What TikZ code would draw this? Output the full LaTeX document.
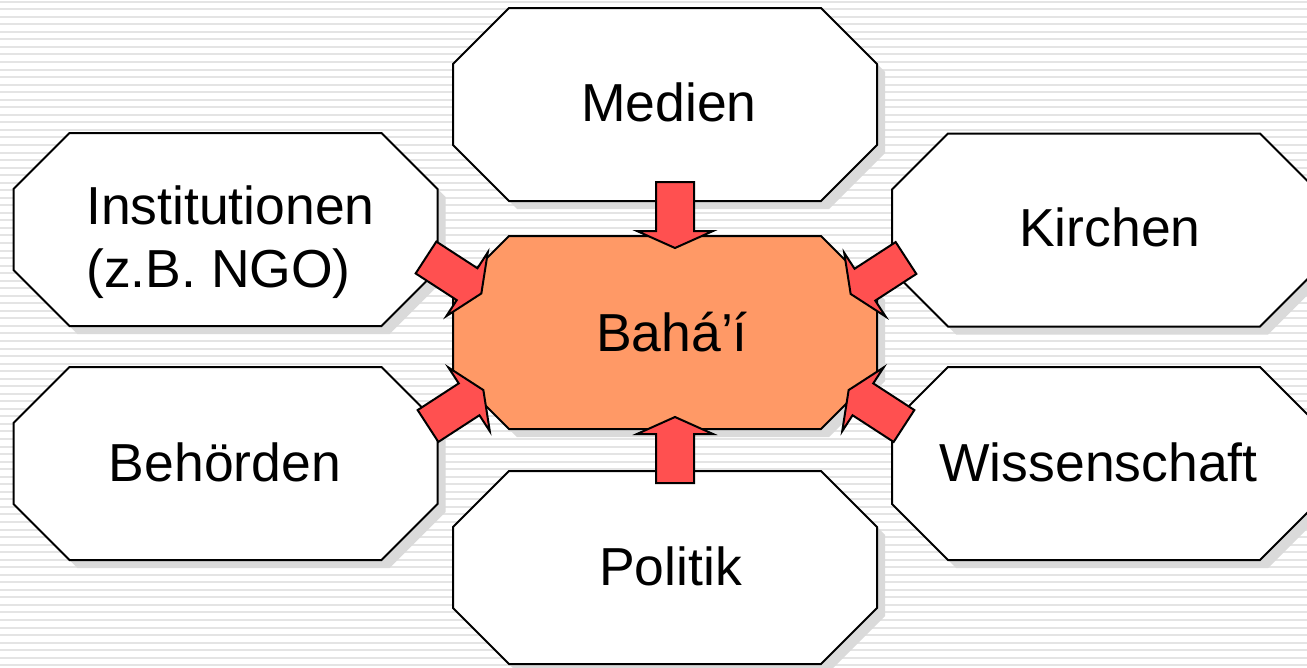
\documentclass[tikz,border=0pt]{standalone}
\usepackage{fontspec}
\setmainfont{Liberation Sans}
\definecolor{stripec}{HTML}{E4E4E4}
\definecolor{shadowc}{HTML}{DADADA}
\definecolor{orangec}{HTML}{FF9966}
\definecolor{arrowc}{HTML}{FF5050}
\tikzset{
  boxline/.style={draw=black, line width=2pt},
  arrowshape/.style={draw=black, line width=2pt, fill=arrowc},
  lbl/.style={font=\fontsize{53.5}{63}\selectfont, inner sep=0pt, anchor=base},
  blockarrow/.pic={\path[arrowshape] (0,-19) -- (49,-19) -- (49,-38) -- (66,0) -- (49,38) -- (49,19) -- (0,19) -- cycle;}
}
\newcommand{\octshape}[2]{%
  \begin{scope}[shift={(#1)}]
    \fill[shadowc, shift={(8,8)}] (-156,-96.5) -- (156,-96.5) -- (212,-40.5) -- (212,40.5) -- (156,96.5) -- (-156,96.5) -- (-212,40.5) -- (-212,-40.5) -- cycle;
    \path[boxline, fill=#2] (-156,-96.5) -- (156,-96.5) -- (212,-40.5) -- (212,40.5) -- (156,96.5) -- (-156,96.5) -- (-212,40.5) -- (-212,-40.5) -- cycle;
  \end{scope}}
\begin{document}
\begin{tikzpicture}[x=1pt, y=-1pt]
  \clip (0,0) rectangle (1307,667);
  \fill[white] (0,0) rectangle (1307,667);
  \foreach \i in {0,...,89} {
    \draw[stripec, line width=2pt] (0,{1.7+7.54*\i}) -- (1307,{1.7+7.54*\i});
  }
  % outer boxes
  \octshape{665,104.5}{white}
  \octshape{225.5,229.5}{white}
  \octshape{1104,230}{white}
  \octshape{225.5,463.5}{white}
  \octshape{1104,463.5}{white}
  \octshape{665,567.5}{white}
  % centre box
  \octshape{665,332.5}{orangec}
  % labels
  \node[lbl] (medien) at (669,121) {Medien};
  \node[lbl, align=left, anchor=north west] (inst) at (86,186) {Institutionen\\(z.B. NGO)};
  \node[lbl] (kirchen) at (1110,246) {Kirchen};
  \node[lbl] (bahai) at (672,351) {Bahá’í};
  \node[lbl] (behoerden) at (225,481) {Behörden};
  \node[lbl] (wiss) at (1098.5,481) {Wissenschaft};
  \node[lbl] (politik) at (670.5,585) {Politik};
  % block arrows
  \pic[rotate=-90] (amed) at (675,182) {blockarrow};
  \pic[rotate=90] (apol) at (675,483) {blockarrow};
  \pic[rotate=-33] (ainst) at (426,257.5) {blockarrow};
  \pic[rotate=-147] (akir) at (906,258) {blockarrow};
  \pic[rotate=33] (abeh) at (428,426) {blockarrow};
  \pic[rotate=147] (awiss) at (904,426) {blockarrow};
\end{tikzpicture}
\end{document}
